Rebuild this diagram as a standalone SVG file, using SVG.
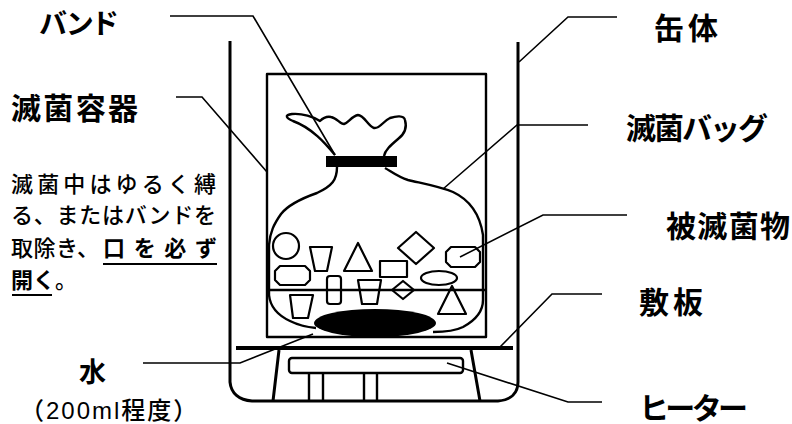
<svg xmlns="http://www.w3.org/2000/svg" width="792" height="424" viewBox="0 0 792 424">
<style>
  text { font-family: "Liberation Sans", "Noto Sans CJK JP", sans-serif; fill: #000; }
  .lbl { font-size: 30px; font-weight: 700; }
  .sub { font-size: 24px; font-weight: 500; letter-spacing: 2px; }
  .note { font-size: 22px; font-weight: 500; }
  .em { font-weight: 700; }
  .leader { fill: none; stroke: #000; stroke-width: 1.6; }
  .wall { fill: none; stroke: #000; stroke-width: 3; stroke-linejoin: round; }
  .line { fill: none; stroke: #000; stroke-width: 2.4; stroke-linejoin: round; }
  .item { fill: none; stroke: #000; stroke-width: 2.2; stroke-linejoin: round; }
</style>

<!-- autoclave body -->
<g id="can">
  <path class="wall" d="M230,41 L230,382 C231,393 239,400 252,401 L498,401 C511,400 518,393 518,382 L518,42"/>
</g>

<!-- base plate and heater stand -->
<g id="plate">
  <line x1="236" y1="348" x2="513" y2="348" stroke="#000" stroke-width="4"/>
</g>
<g id="stand">
  <path class="wall" d="M279,350 L273,401 M471,350 L480,401"/>
  <path class="line" d="M309,373 V401 M323,373 V401 M364,373 V401 M377,373 V401"/>
</g>
<g id="heater">
  <rect class="line" x="289" y="358" width="174" height="15" rx="3"/>
</g>

<!-- sterilisation container -->
<g id="container">
  <rect class="line" x="267" y="74" width="219" height="263"/>
</g>

<!-- bag with band -->
<g id="bag">
  <path class="line" d="M335,155 C325,143 312,128 293,121 C286,118 284,115 292,114 C302,113 314,117 320,121 C323,118 326,116 331,117 C337,118 340,124 344,124 C348,123 352,116 358,115 C364,115 368,126 374,128 C380,129 383,121 390,118 C396,116 404,115 405,120 C407,127 406,133 398,139 C391,145 385,150 384,156"/>
  <path class="line" d="M337,167 C337,180 332,186 317,193 C300,199 288,205 281,214 C274,224 270,232 269,245 L269,295 C270,305 275,314 290,321 C298,325 306,327 316,328"/>
  <path class="line" d="M385,168 C392,172 398,177 408,180 C420,183 438,186 453,192 C470,200 480,215 483,235 L483,300 C483,312 476,320 463,327 C455,331 445,332 433,332"/>
  <line class="line" x1="268" y1="290" x2="486" y2="290"/>
</g>
<g id="band">
  <rect x="326" y="156" width="71" height="11" fill="#000"/>
</g>
<g id="water">
  <ellipse cx="375" cy="323" rx="61" ry="14" fill="#000"/>
</g>

<!-- items to be sterilised -->
<g id="items">
  <circle class="item" cx="286" cy="246" r="13"/>
  <polygon class="item" points="310,247 332,247 327,271 315,271"/>
  <polygon class="item" points="358,243 372,271 344,271"/>
  <rect class="item" x="380" y="261" width="27" height="16"/>
  <polygon class="item" points="416,232 434,248 416,264 398,248"/>
  <polygon class="item" points="451,247 475,247 480,252 480,262 475,267 451,267 446,262 446,252"/>
  <polygon class="item" points="280,266 305,266 310,271 310,280 305,285 280,285 275,280 275,271"/>
  <rect class="item" x="327" y="276" width="14" height="28" rx="3"/>
  <polygon class="item" points="358,280 381,280 377,304 362,304"/>
  <polygon class="item" points="403,281 414,290 403,299 392,290"/>
  <ellipse class="item" cx="439" cy="278" rx="18" ry="7"/>
  <polygon class="item" points="290,295 313,295 308,318 293,318"/>
  <polygon class="item" points="452,286 466,314 438,314"/>
</g>

<!-- leader lines -->
<g id="connectors">
  <path class="leader" d="M170,16 L253,16 L335,155"/>
  <path class="leader" d="M176,97 L202,97 L267,172"/>
  <path class="leader" d="M519,62 L568,17 L617,17"/>
  <path class="leader" d="M443,189 L517,125 L588,125"/>
  <path class="leader" d="M460,257 L543,215 L627,215"/>
  <path class="leader" d="M500,347 L552,294 L602,294"/>
  <path class="leader" d="M447,363 L568,402 L602,402"/>
  <path class="leader" d="M143,363 L240,363 L313,334"/>
</g>

<!-- labels -->
<g id="labels">
  <text class="lbl" x="39" y="34" style="font-size:28px" textLength="80">バンド</text>
  <text class="lbl" x="11" y="119" textLength="127">滅菌容器</text>
  <text class="lbl" x="654" y="39" textLength="64">缶体</text>
  <text class="lbl" x="626" y="139" textLength="142">滅菌バッグ</text>
  <text class="lbl" x="666" y="237" textLength="124">被滅菌物</text>
  <text class="lbl" x="639" y="313" textLength="64">敷板</text>
  <text class="lbl" x="639" y="419" textLength="109">ヒーター</text>
  <text class="lbl" x="79" y="382" style="font-size:27px">水</text>
  <text class="sub" x="20" y="419">（200ml程度）</text>
</g>

<!-- note -->
<g id="note">
  <text class="note" x="11" y="192" textLength="205">滅菌中はゆるく縛</text>
  <text class="note" x="11" y="223" textLength="205">る、またはバンドを</text>
  <text class="note" x="11" y="256" textLength="88">取除き、</text>
  <text class="note em" x="103" y="256" textLength="114">口を必ず</text>
  <text class="note em" x="11" y="288">開く<tspan style="font-weight:500">。</tspan></text>
  <line x1="103" y1="264" x2="217" y2="264" stroke="#000" stroke-width="2"/>
  <line x1="12" y1="295" x2="52" y2="295" stroke="#000" stroke-width="2"/>
</g>
</svg>
